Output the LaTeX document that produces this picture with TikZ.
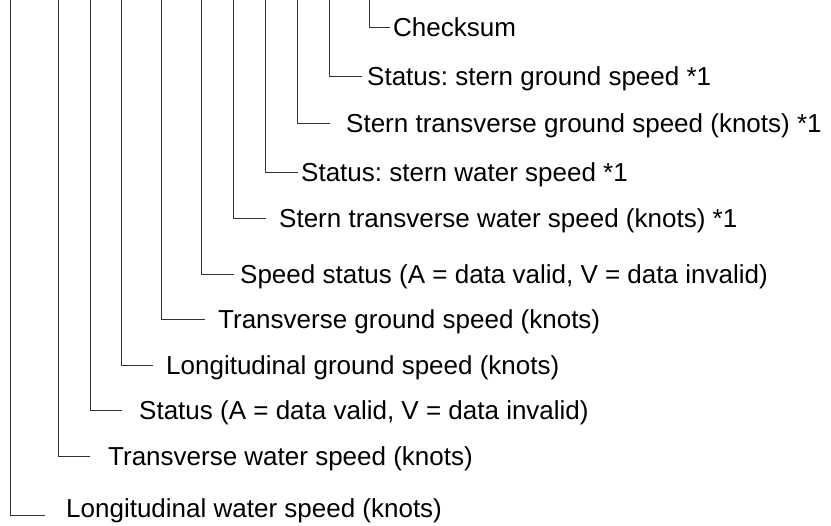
\documentclass[tikz,border=0pt]{standalone}
\usepackage{fontspec}
\setmainfont{Liberation Sans}
\frenchspacing
\begin{document}
\begin{tikzpicture}[x=1pt,y=-1pt,
  lbl/.style={anchor=base west,inner sep=0pt,font=\fontsize{26}{30}\selectfont\frenchspacing},
  leader/.style={draw=black!80,line width=1pt}]
\useasboundingbox (0,0) rectangle (831,526);
% tops of the leaders
\coordinate (t1)  at (10,-1);
\coordinate (t2)  at (58,-1);
\coordinate (t3)  at (90,-1);
\coordinate (t4)  at (121,-1);
\coordinate (t5)  at (161,-1);
\coordinate (t6)  at (201,-1);
\coordinate (t7)  at (233,-1);
\coordinate (t8)  at (265,-1);
\coordinate (t9)  at (297,-1);
\coordinate (t10) at (329,-1);
\coordinate (t11) at (369,-1);
% ends of the leaders
\coordinate (e1)  at (45,516);
\coordinate (e2)  at (90,457);
\coordinate (e3)  at (122,411);
\coordinate (e4)  at (153,366);
\coordinate (e5)  at (205,320);
\coordinate (e6)  at (234,275);
\coordinate (e7)  at (266,219);
\coordinate (e8)  at (298,173);
\coordinate (e9)  at (330,124);
\coordinate (e10) at (362,77);
\coordinate (e11) at (390,28);
% labels
\node[lbl] (l1)  at (66,518)  {Longitudinal water speed (knots)};
\node[lbl] (l2)  at (108,466) {Transverse water speed (knots)};
\node[lbl] (l3)  at (139,420) {Status (A = data valid, V = data invalid)};
\node[lbl] (l4)  at (166,375) {Longitudinal ground speed (knots)};
\node[lbl] (l5)  at (218,329) {Transverse ground speed (knots)};
\node[lbl] (l6)  at (240,284) {Speed status (A = data valid, V = data invalid)};
\node[lbl] (l7)  at (279,228) {Stern transverse water speed (knots) *1};
\node[lbl] (l8)  at (301,182) {Status: stern water speed *1};
\node[lbl] (l9)  at (346,133) {Stern transverse ground speed (knots) *1};
\node[lbl] (l10) at (367,86)  {Status: stern ground speed *1};
\node[lbl] (l11) at (393,37)  {Checksum};
% leaders
\foreach \i in {1,...,11}{
  \draw[leader] (t\i) |- (e\i);
}
\end{tikzpicture}
\end{document}
